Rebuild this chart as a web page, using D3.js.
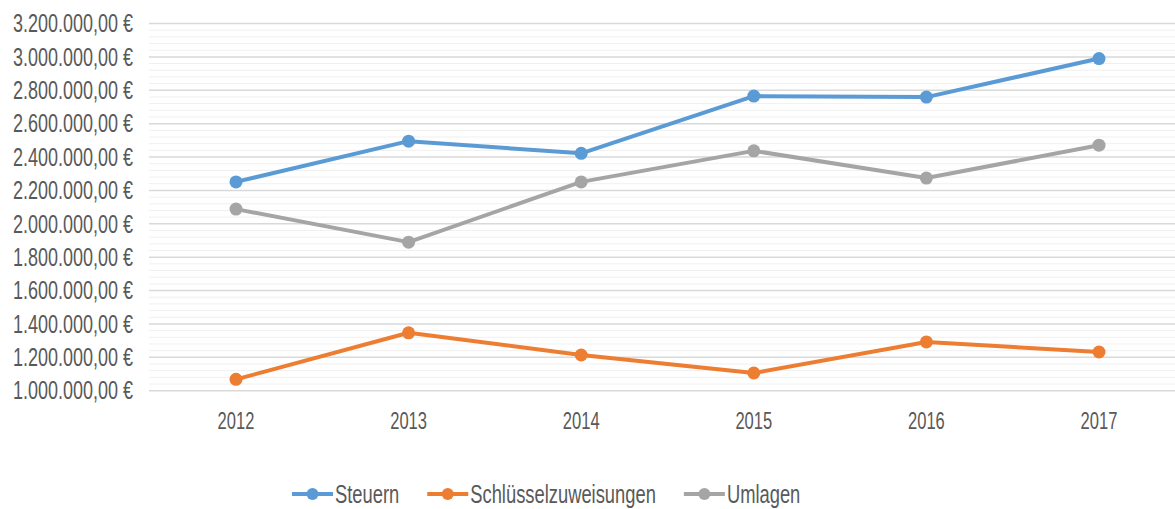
<!DOCTYPE html>
<html>
<head>
<meta charset="utf-8">
<script src="https://cdn.jsdelivr.net/npm/d3@7"></script>
<style>
  html, body { margin: 0; padding: 0; background: #fff; overflow: hidden; }
  text { font-family: "Liberation Sans", Arial, sans-serif; fill: #595959; }
</style>
</head>
<body>
<svg id="chart" width="1175" height="509"></svg>
<script>
// Data
const years = ["2012", "2013", "2014", "2015", "2016", "2017"];
const steuern = [2251000, 2495000, 2422000, 2765000, 2759000, 2990000];
const schluessel = [1068000, 1347000, 1214000, 1106000, 1292000, 1232000];
const umlagen = [2088000, 1890000, 2251000, 2437000, 2274000, 2471000];
const seriesNames = ["Steuern", "Schlüsselzuweisungen", "Umlagen"];
const seriesColors = ["#5b9bd5", "#ed7d31", "#a5a5a5"];
const yTicks = [1000000, 1200000, 1400000, 1600000, 1800000, 2000000,
                2200000, 2400000, 2600000, 2800000, 3000000, 3200000];

const series = [steuern, schluessel, umlagen].map((vals, i) => ({
  name: seriesNames[i], color: seriesColors[i], values: vals
}));

// the picture is squeezed horizontally, so text is squeezed too
const SX = 0.72;

const svg = d3.select("#chart");

const x = d3.scaleBand().domain(years).range([149.7, 1185.3]);
const y = d3.scaleLinear().domain([1000000, 3200000]).range([390.7, 23.5]);

const de = d3.formatLocale({ decimal: ",", thousands: ".", grouping: [3], currency: ["", " €"] });
const fmt = de.format("$,.2f");

// minor grid lines every 40.000
const minor = d3.range(0, 56).map(i => 1000000 + i * 40000).filter((v, i) => i % 5 !== 0);
svg.append("g")
  .selectAll("line")
  .data(minor)
  .enter()
  .append("line")
  .attr("x1", 149).attr("x2", 1175)
  .attr("y1", d => y(d)).attr("y2", d => y(d))
  .style("stroke", "#f0f0f0")
  .style("stroke-width", 1);

// major grid lines
svg.append("g")
  .selectAll("line")
  .data(yTicks)
  .enter()
  .append("line")
  .attr("x1", 149).attr("x2", 1175)
  .attr("y1", d => y(d)).attr("y2", d => y(d))
  .style("stroke", "#d9d9d9")
  .style("stroke-width", 1.5);

// y labels
svg.append("g")
  .selectAll("text")
  .data(yTicks)
  .enter()
  .append("text")
  .attr("transform", d => `translate(133,${y(d)}) scale(${SX},1)`)
  .attr("dy", "0.35em")
  .attr("text-anchor", "end")
  .style("font-size", "25px")
  .text(d => fmt(d));

// x labels
svg.append("g")
  .selectAll("text")
  .data(years)
  .enter()
  .append("text")
  .attr("transform", d => `translate(${x(d) + x.bandwidth() / 2},421) scale(${SX},1)`)
  .attr("dy", "0.35em")
  .attr("text-anchor", "middle")
  .style("font-size", "23px")
  .text(d => d);

const cx = (d, i) => x(years[i]) + x.bandwidth() / 2;
const line = d3.line().x(cx).y(d => y(d));

const g = svg.append("g")
  .selectAll("g")
  .data(series)
  .enter()
  .append("g");

g.append("path")
  .attr("d", d => line(d.values))
  .style("fill", "none")
  .style("stroke", d => d.color)
  .style("stroke-width", 4)
  .style("stroke-linejoin", "round");

g.each(function(s) {
  d3.select(this).selectAll("circle")
    .data(s.values)
    .enter()
    .append("circle")
    .attr("cx", cx)
    .attr("cy", d => y(d))
    .attr("r", 6.5)
    .style("fill", s.color);
});

// legend
const legend = svg.append("g");
let lx = 292;
const ly = 494;
series.forEach(s => {
  legend.append("line")
    .attr("x1", lx).attr("x2", lx + 41)
    .attr("y1", ly).attr("y2", ly)
    .style("stroke", s.color)
    .style("stroke-width", 4);
  legend.append("circle")
    .attr("cx", lx + 20.5).attr("cy", ly).attr("r", 6)
    .style("fill", s.color);
  const t = legend.append("text")
    .attr("transform", `translate(${lx + 43},${ly}) scale(${SX},1)`)
    .attr("dy", "0.35em")
    .style("font-size", "25.5px")
    .text(s.name);
  const w = t.node().getComputedTextLength() * SX;
  lx += 43 + w + 28;
});
</script>
</body>
</html>
